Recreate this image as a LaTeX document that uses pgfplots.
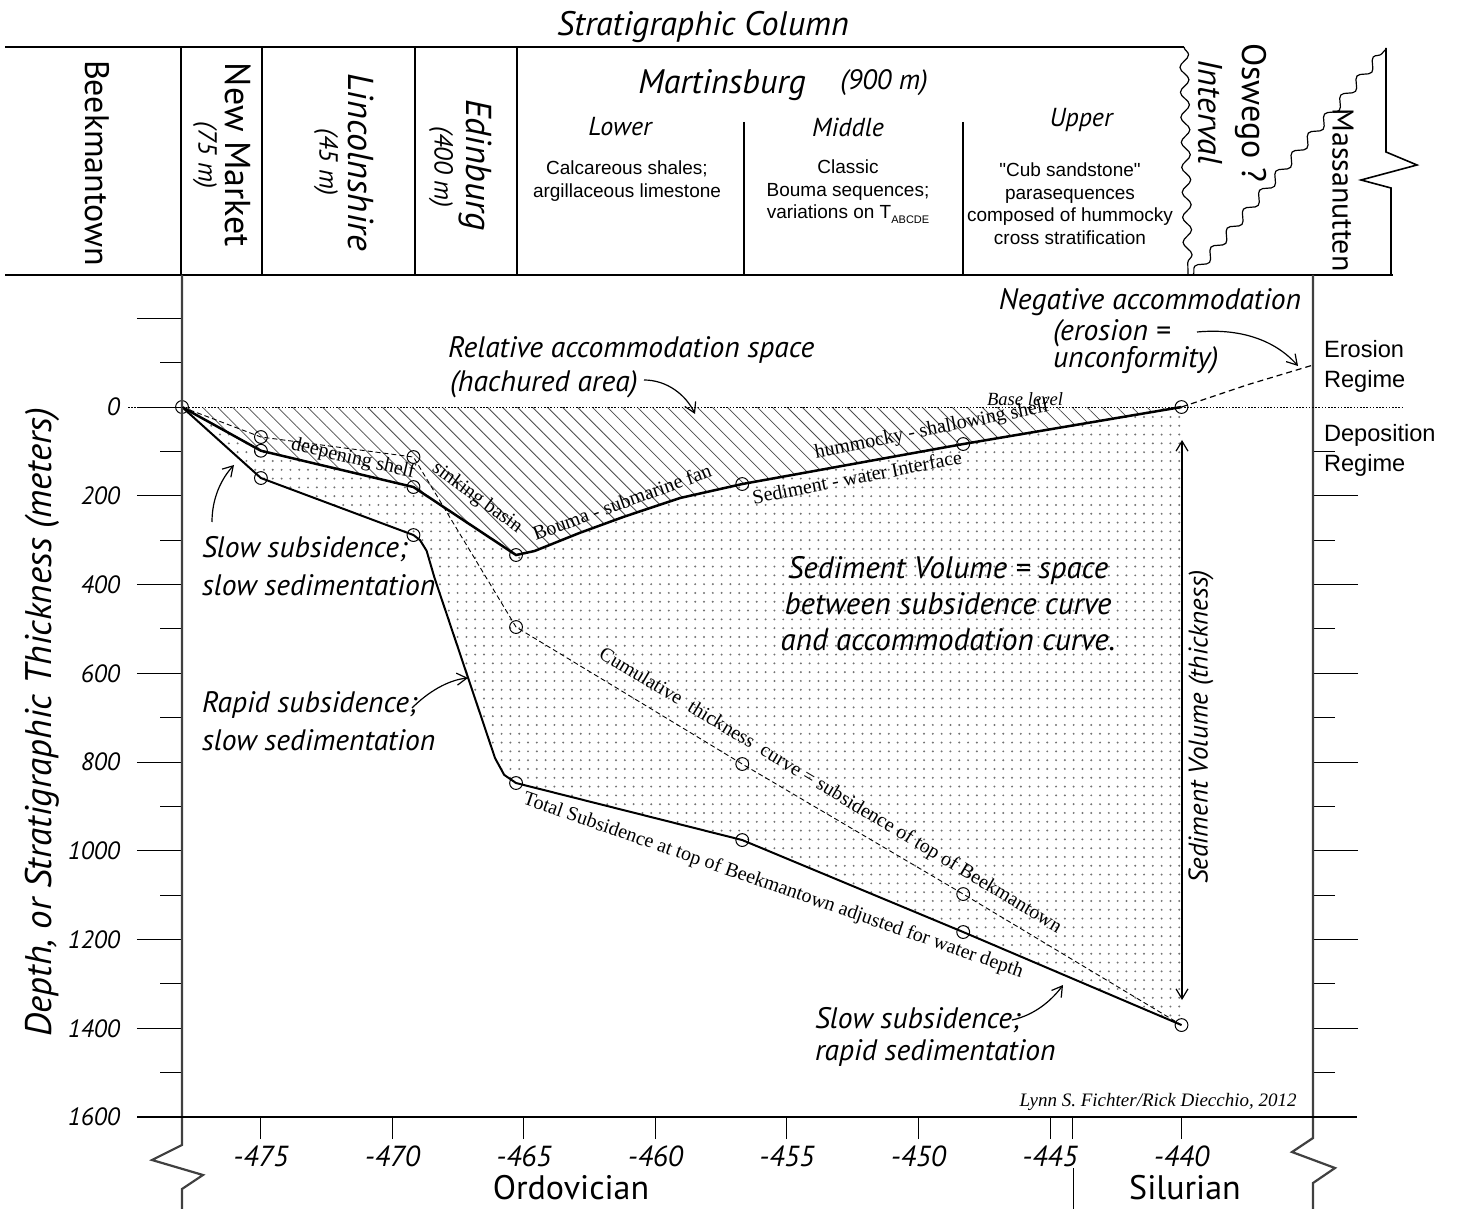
\documentclass[border=0pt]{standalone}
\usepackage{fontspec}
\setmainfont{PT Sans}
\newfontfamily\arialf{Liberation Sans}
\newfontfamily\serif{Liberation Serif}
\usepackage{pgfplots}
\pgfplotsset{compat=1.18}
\usetikzlibrary{patterns.meta,decorations.pathmorphing,arrows.meta}
\newcommand\fs[2]{\fontsize{#1bp}{#2bp}\selectfont}

\pgfplotsset{
  frame/.style={
    at={(91bp,-558.5bp)}, anchor=south west,
    width=565.5bp, height=421bp, scale only axis,
    xmin=-478, xmax=-435, ymin=-297.5, ymax=1600, y dir=reverse,
    axis line style={draw=none}, clip=false,
    tick align=outside,
    every tick/.style={black, line width=0.5bp},
    minor tick length=11bp,
  },
}

\begin{document}
\begin{tikzpicture}

% area, curves and marks
\begin{axis}[frame,
  xtick={-475,-470,...,-440},
  xticklabels={-475,-470,-465,-460,-455,-450,-445,-440},
  extra x ticks={-444.13}, extra x tick labels={},
  xtick pos=bottom, ytick=\empty,
  major tick length=11bp,
  xticklabel style={font=\fs{14.5}{16}\itshape},
]
% sediment volume (stippled)
\addplot[draw=none, pattern={Dots[distance=4.4bp, radius=0.55bp]}, pattern color=black!55]
  coordinates {(-478,0) (-475,98.5) (-469.2,180.3) (-465.3,333.5) (-464.6,324.5)
    (-462.87,283.4) (-461.23,247.9) (-459.07,205.1) (-456.7,173.5) (-448.3,83.4) (-440,0) (-440,1392.7)
    (-448.3,1183.1) (-456.7,975.8) (-465.3,847.3) (-465.75,829) (-466.1,791)
    (-468.4,385) (-468.7,324) (-468.95,300) (-469.2,288.5) (-475,160)} -- cycle;
% accommodation space (hachured)
\addplot[draw=none, pattern={Lines[angle=-45, distance=5.3bp, line width=0.4bp]}, pattern color=black!70]
  coordinates {(-478,0) (-475,98.5) (-469.2,180.3) (-465.3,333.5) (-464.6,324.5)
    (-462.87,283.4) (-461.23,247.9) (-459.07,205.1) (-456.7,173.5) (-448.3,83.4) (-440,0)} -- cycle;
% cumulative thickness curve
\addplot[black, line width=0.45bp, dash pattern=on 2.5bp off 1.5bp]
  coordinates {(-478,0) (-475,67.6) (-469.2,112.7) (-465.3,495.8) (-456.7,804.5) (-448.3,1097.5) (-440,1392.7)};
% total subsidence
\addplot[black, line width=1bp]
  coordinates {(-478,0) (-475,160) (-469.2,288.5) (-468.95,300) (-468.7,324) (-468.4,385) (-466.1,791)
    (-465.75,829) (-465.3,847.3) (-456.7,975.8) (-448.3,1183.1) (-440,1392.7)};
% sediment - water interface
\addplot[black, line width=1.25bp]
  coordinates {(-478,0) (-475,98.5) (-469.2,180.3) (-465.3,333.5) (-464.6,324.5)
    (-462.87,283.4) (-461.23,247.9) (-459.07,205.1) (-456.7,173.5) (-448.3,83.4) (-440,0)};
% negative accommodation
\addplot[black, line width=0.6bp, dash pattern=on 3bp off 2bp]
  coordinates {(-440,0) (-437.5,-50) (-435,-94.6)};
% points
\addplot[only marks, mark=o, mark size=3.2bp, mark options={fill=white, line width=0.5bp}]
  coordinates {(-478,0) (-475,98.5) (-469.2,180.3) (-465.3,333.5) (-456.7,173.5) (-448.3,83.4) (-440,0)
    (-475,67.6) (-469.2,112.7) (-465.3,495.8) (-456.7,804.5) (-448.3,1097.5)
    (-475,160) (-469.2,288.5) (-465.3,847.3) (-456.7,975.8) (-448.3,1183.1) (-440,1392.7)};
\end{axis}

% left depth scale
\begin{axis}[frame,
  xtick=\empty, ytick pos=left,
  major tick length=22.5bp,
  ytick={-200,0,...,1600},
  yticklabels={{},0,200,400,600,800,1000,1200,1400,1600},
  minor ytick={-100,100,...,1500},
  yticklabel style={font=\fs{12.5}{14}\itshape, xshift=-5bp},
]
\end{axis}

% right depth scale
\begin{axis}[frame,
  xtick=\empty, ytick pos=right,
  major tick length=22.5bp,
  ytick={200,400,...,1400}, yticklabels={},
  minor ytick={100,300,...,1500},
]
\end{axis}

\begin{scope}[x=0.5bp, y=-0.5bp]
\useasboundingbox (0,0) rectangle (1460,1209);

% stratigraphic column
\draw[line width=0.8bp] (5,47) -- (1184,47);
\draw[line width=0.8bp] (5,275) -- (1393,275);
\foreach \x in {181,262,415,517} \draw[line width=0.8bp] (\x,47) -- (\x,275);
\foreach \x in {744,963} \draw[line width=0.6bp] (\x,122) -- (\x,275);
\draw[line width=0.6bp, decorate, decoration={snake, amplitude=2.2bp, segment length=12.5bp}]
  (1184,47) -- (1188,275);
\draw[line width=0.6bp, decorate, decoration={snake, amplitude=2.2bp, segment length=12.5bp}]
  (1193,275) -- (1385,50);
\draw[line width=0.8bp] (1386,48) -- (1386,152) -- (1417,165) -- (1361,180) -- (1391,188) -- (1391,275);

\node[font=\fs{17}{20}\itshape] at (703,27) {Stratigraphic Column};
\node[rotate=-90, font=\fs{17}{20}] at (97,163) {Beekmantown};
\node[rotate=-90, font=\fs{18}{20}] at (238,155) {New Market};
\node[rotate=-90, font=\fs{13}{14}\itshape] at (205,155) {(75 m)};
\node[rotate=-90, font=\fs{18}{20}\itshape] at (361,162) {Lincolnshire};
\node[rotate=-90, font=\fs{13}{14}\itshape] at (326,162) {(45 m)};
\node[rotate=-90, font=\fs{18}{20}\itshape] at (475,165) {Edinburg};
\node[rotate=-90, font=\fs{13}{14}\itshape] at (441,167) {(400 m)};
\node[font=\fs{17}{20}\itshape] at (722,85) {Martinsburg};
\node[font=\fs{14}{16}\itshape] at (884,83) {(900 m)};
\node[font=\fs{13}{15}\itshape] at (620,127) {Lower};
\node[font=\fs{13}{15}\itshape] at (848,127) {Middle};
\node[font=\fs{13}{15}\itshape] at (1081,120) {Upper};
\node[font=\arialf\fs{9.5}{11.25}, align=center] at (627,181)
  {Calcareous shales;\\argillaceous limestone};
\node[font=\arialf\fs{9.5}{11.25}, align=center] at (848,192)
  {Classic\\Bouma sequences;\\variations on T\raisebox{-0.5ex}{\fs{5.5}{6}ABCDE}};
\node[font=\arialf\fs{9.5}{11.25}, align=center] at (1070,203.5)
  {"Cub sandstone"\\parasequences\\composed of hummocky\\cross stratification};
\node[rotate=-90, font=\fs{17}{20}\itshape] at (1210,112) {Interval};
\node[rotate=-90, font=\fs{17}{20}] at (1251,113) {Oswego ?};
\node[rotate=-90, font=\fs{15}{20}] at (1343,190) {Massanutten};

% axes frame
\draw[line width=1.1bp, black!75] (182,275) -- (182,1145) -- (152,1160) -- (203,1175) -- (182,1189) -- (182,1209);
\draw[line width=1.1bp, black!75] (1313,275) -- (1313,1138) -- (1292,1152) -- (1335,1168) -- (1313,1183) -- (1313,1209);
\draw[line width=0.9bp] (137,1117) -- (1357,1117);
\draw[line width=0.5bp] (1073,1168) -- (1073,1209);
\draw[line width=0.4bp, dash pattern=on 0.8bp off 0.8bp] (128,407) -- (1402,407);

\node[rotate=90, font=\fs{18.5}{20}\itshape] at (42,722) {Depth, or Stratigraphic Thickness (meters)};
\node[font=\fs{17}{20}] at (571,1188) {Ordovician};
\node[font=\fs{17}{20}] at (1185,1188) {Silurian};

% annotations
\begin{scope}[font=\fs{14.8}{18}\itshape]
\node[anchor=west] at (441,350) {Relative accommodation space};
\node[anchor=west] at (443,384) {(hachured area)};
\node at (1150,302) {Negative accommodation};
\node[anchor=west] at (1046,333) {(erosion =};
\node[anchor=west] at (1046,360) {unconformity)};
\node[anchor=west] at (195,549) {Slow subsidence;};
\node[anchor=west] at (195,585) {slow sedimentation};
\node[anchor=west] at (195,705) {Rapid subsidence;};
\node[anchor=west] at (195,740) {slow sedimentation};
\node[align=center, font=\fs{15.5}{18}\itshape] at (948,604) {Sediment Volume = space\\between subsidence curve\\and accommodation curve.};
\node[anchor=west] at (808,1020) {Slow subsidence;};
\node[anchor=west] at (808,1053) {rapid sedimentation};
\end{scope}
\node[rotate=90, font=\fs{13.5}{14}\itshape] at (1201,727) {Sediment Volume (thickness)};

\begin{scope}[line width=0.6bp, -{Straight Barb[length=5bp, width=6bp]}]
\draw (644,380) .. controls (667,380) and (686,395) .. (695,414);
\draw (1197,332) .. controls (1240,328) and (1275,340) .. (1298,366);
\draw (212,522) .. controls (212,497) and (222,478) .. (234,465);
\draw (412,708) .. controls (428,692) and (448,680) .. (468,678);
\draw (1012,1020) .. controls (1035,1015) and (1052,1000) .. (1063,985);
\end{scope}
\draw[line width=0.6bp, {Straight Barb[length=5bp, width=6bp]}-{Straight Barb[length=5bp, width=6bp]}] (1182,440) -- (1182,1000);

\node[font=\arialf\fs{11.8}{15}, align=left, anchor=west] at (1317,366) {Erosion\\Regime};
\node[font=\arialf\fs{11.8}{15}, align=left, anchor=west] at (1317,450) {Deposition\\Regime};

\begin{scope}[font=\serif\fs{10}{12}, inner sep=0pt]
\node[font=\serif\itshape\fs{9.3}{11}] at (1025,399) {Base level};
\node[rotate=-13] at (353,459) {deepening shelf};
\node[rotate=-36] at (477,498) {sinking basin};
\node[rotate=20] at (622,502) {Bouma - submarine fan};
\node[rotate=11] at (857,477) {Sediment - water Interface};
\node[rotate=11.3] at (932,430) {hummocky - shallowing shelf};
\node[rotate=-31] at (830,791) {Cumulative\ \ thickness\ \ curve = subsidence of top of Beekmantown};
\node[rotate=-19.2] at (773,886) {Total Subsidence at top of Beekmantown adjusted for water depth};
\node[font=\serif\itshape\fs{9.5}{11}, anchor=east] at (1297,1102) {Lynn S. Fichter/Rick Diecchio, 2012};
\end{scope}
\end{scope}

\end{tikzpicture}
\end{document}
